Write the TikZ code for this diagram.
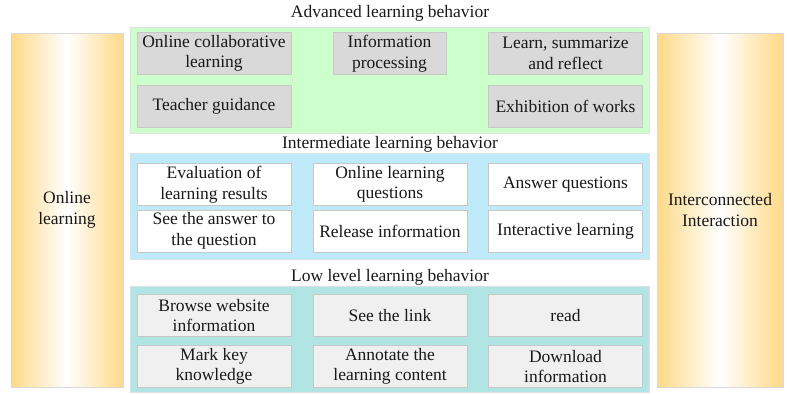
\documentclass[tikz,border=0pt]{standalone}
\usepackage{fontspec}
\setmainfont{Liberation Serif}
\usepackage{xcolor}
\usetikzlibrary{positioning}

\definecolor{barorange}{HTML}{FFD987}
\definecolor{greenpanel}{HTML}{CCFFCC}
\definecolor{bluepanel}{HTML}{BFEAFA}
\definecolor{tealpanel}{HTML}{B1E5E4}
\definecolor{graybox}{HTML}{D9D9D9}
\definecolor{lightbox}{HTML}{F0F0F0}

\begin{document}
\begin{tikzpicture}[
        x=1pt, y=-1pt,
        every node/.style={align=center, inner sep=0pt, font=\fontsize{17.5}{20.5}\selectfont, text=black!90},
        sidebar/.style={draw=black!15, rectangle, left color=barorange, right color=barorange, middle color=white, minimum width=112pt, minimum height=354pt},
        panel/.style={draw=black!12, line width=1.2pt, rectangle, minimum width=519pt, minimum height=106pt},
        item/.style={draw=black!22, rectangle, minimum width=154pt, minimum height=42pt},
        title/.style={rectangle}
    ]
        \useasboundingbox (0,0) rectangle (787,394);

        % side bars
        \node[sidebar] (online) at (67,210) {Online\\learning};
        \node[sidebar, minimum width=126pt] (inter) at (720,210) {Interconnected\\Interaction};

        % panels and their titles
        \node[title] (advtitle) at (390,13) {Advanced learning behavior};
        \node[panel, fill=greenpanel] (adv) at (390,80.5) {};
        \node[title] (midtitle) at (390,144) {Intermediate learning behavior};
        \node[panel, fill=bluepanel] (mid) at (390,206.5) {};
        \node[title] (lowtitle) at (390,277) {Low level learning behavior};
        \node[panel, fill=tealpanel] (low) at (390,339.5) {};

        % advanced level
        \node[item, fill=graybox] (collab) at (214,53.5) {Online collaborative\\learning};
        \node[item, fill=graybox, minimum width=113pt] (process) at (389.5,53.5) {Information\\processing};
        \node[item, fill=graybox] (reflect) at (565.5,53.5) {Learn, summarize\\and reflect};
        \node[item, fill=graybox] (guide) at (214,106) {Teacher guidance};
        \node[item, fill=graybox] (works) at (565.5,106) {Exhibition of works};

        % intermediate level
        \node[item, fill=white] (evaluate) at (214,184.5) {Evaluation of\\learning results};
        \node[item, fill=white] (questions) at (390,184.5) {Online learning\\questions};
        \node[item, fill=white] (answer) at (565.5,184.5) {Answer questions};
        \node[item, fill=white] (seeanswer) at (214,231) {See the answer to\\the question};
        \node[item, fill=white] (release) at (390,231) {Release information};
        \node[item, fill=white] (interact) at (565.5,231) {Interactive learning};

        % low level
        \node[item, fill=lightbox] (browse) at (214,315.5) {Browse website\\information};
        \node[item, fill=lightbox] (link) at (390,315.5) {See the link};
        \node[item, fill=lightbox] (read) at (565.5,315.5) {read};
        \node[item, fill=lightbox] (mark) at (214,366.5) {Mark key\\knowledge};
        \node[item, fill=lightbox] (annotate) at (390,366.5) {Annotate the\\learning content};
        \node[item, fill=lightbox] (download) at (565.5,366.5) {Download\\information};
    \end{tikzpicture}
\end{document}
